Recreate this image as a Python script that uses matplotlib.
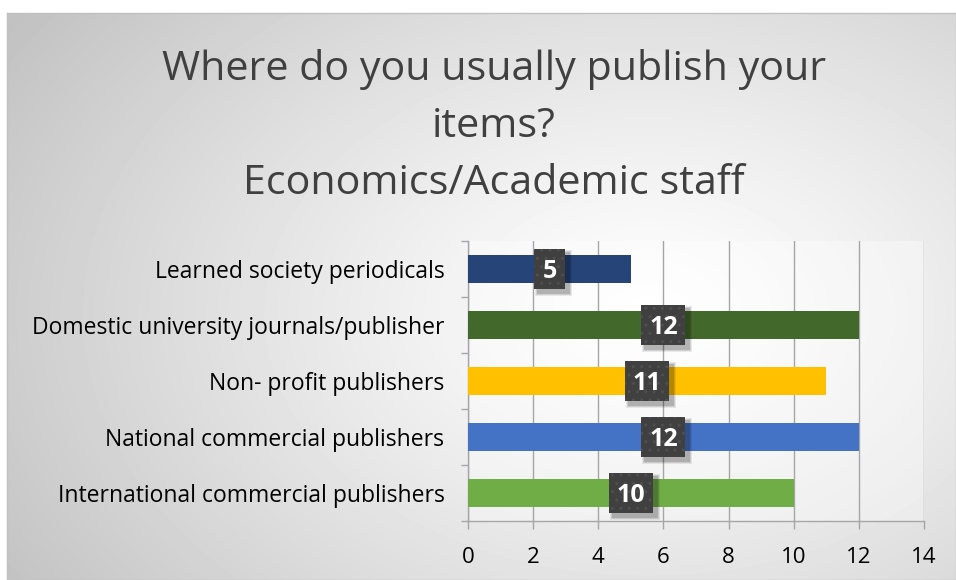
import numpy as np
import matplotlib.pyplot as plt
from matplotlib.patches import Rectangle

categories = ['Learned society periodicals',
              'Domestic university journals/publisher',
              'Non- profit publishers',
              'National commercial publishers',
              'International commercial publishers']
values = [5, 12, 11, 12, 10]
colors = ['#264478', '#43682b', '#ffc000', '#4472c4', '#70ad47']
xticks = [0, 2, 4, 6, 8, 10, 12, 14]

plt.rcParams['font.family'] = ['Open Sans', 'DejaVu Sans']

W, H = 956, 580
fig = plt.figure(figsize=(W / 100, H / 100), dpi=100)

# grey radial background of the chart area
bg = fig.add_axes([7 / W, 0, 1 - 7 / W, 1 - 13 / H], zorder=-10)
gy, gx = np.mgrid[0:567, 0:949]
r = np.sqrt(((gx - 640) / 760.0) ** 2 + ((gy - 300) / 520.0) ** 2)
shade = 1.0 - 0.24 * np.clip(r, 0, 1) ** 1.2
bg.imshow(shade, cmap='gray', vmin=0, vmax=1, aspect='auto',
          interpolation='bilinear')
bg.set_xticks([])
bg.set_yticks([])
for s in bg.spines.values():
    s.set_color('#c0c0c0')
    s.set_linewidth(1)

# title, three lines
title_lines = ['Where do you usually publish your', 'items?',
               'Economics/Academic staff']
for i, line in enumerate(title_lines):
    fig.text(494 / W, 1 - (80 + 57 * i) / H, line, ha='center', va='baseline',
             fontsize=29.7, color='#404040')

ax_w, ax_h = 924 - 468, 521 - 241
ax = fig.add_axes([468 / W, 1 - 521 / H, ax_w / W, ax_h / H])
ax.set_facecolor((1, 1, 1, 0.35))

ypos = np.arange(len(categories))[::-1]
ax.barh(ypos, values, height=0.5, color=colors, zorder=3)

ax.set_xlim(0, 14)
ax.set_ylim(-0.5, len(categories) - 0.5)
ax.set_xticks(xticks)
ax.set_xticklabels([str(t) for t in xticks], fontsize=16, color='black')
ax.set_yticks(ypos)
ax.set_yticklabels(categories, fontsize=16.5, color='black')
ax.set_yticks(np.arange(-0.5, len(categories)), minor=True)
ax.tick_params(axis='y', which='major', length=0, pad=17)
ax.tick_params(axis='y', which='minor', length=5, color='#a6a6a6', width=1)
ax.tick_params(axis='x', length=6, color='#a6a6a6', width=1, pad=13)
ax.grid(axis='x', color='#a6a6a6', linewidth=1, zorder=0)
ax.set_axisbelow(True)
for side in ['top', 'right']:
    ax.spines[side].set_visible(False)
for side in ['left', 'bottom']:
    ax.spines[side].set_color('#a6a6a6')
    ax.spines[side].set_linewidth(1)

# value labels: dark dotted boxes with a soft shadow, at bar centres
px_x = 14 / ax_w           # data units per pixel, x
px_y = 5 / ax_h            # data units per pixel, y
for y, v in zip(ypos, values):
    bw = (18 + 13 * len(str(v))) * px_x
    bh = 40 * px_y
    x0, y0 = v / 2 - bw / 2, y - bh / 2
    for k, a in zip([6, 4, 2], [0.08, 0.10, 0.14]):
        ax.add_patch(Rectangle((x0 + (4 - k / 2) * px_x, y0 - (4 + k / 2) * px_y),
                               bw + k * px_x, bh + k * px_y, facecolor='black',
                               alpha=a, linewidth=0, zorder=4))
    ax.add_patch(Rectangle((x0, y0), bw, bh, facecolor='#404040',
                           edgecolor='#4f4f4f', linewidth=0, hatch='..',
                           zorder=5))
    ax.text(v / 2, y, str(v), ha='center', va='center_baseline', fontsize=18,
            fontweight='bold', color='white', zorder=6)

fig.savefig('out.png', dpi=100)
